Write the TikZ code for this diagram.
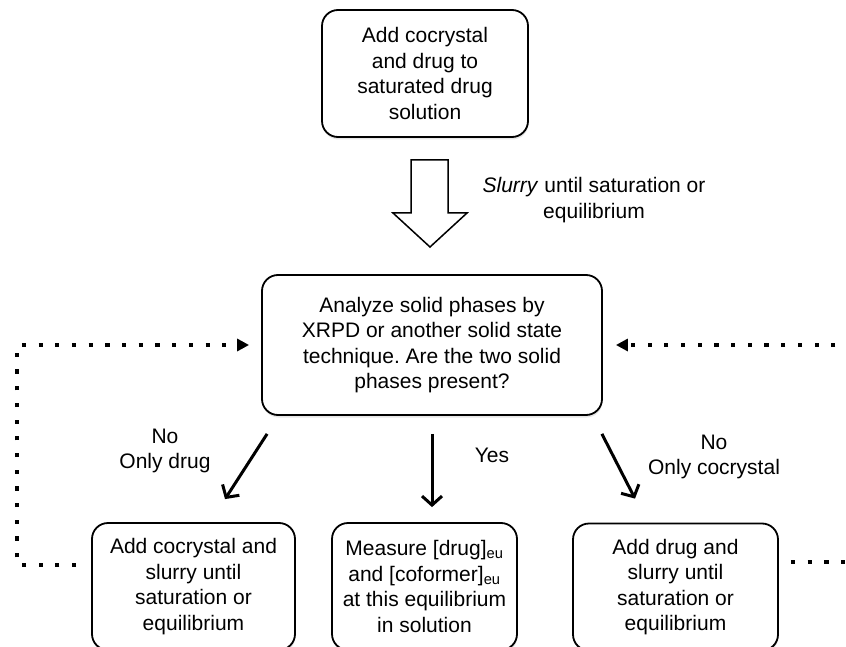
\documentclass[tikz,border=0pt]{standalone}
\usepackage{fontspec}
\setmainfont{Liberation Sans}
\frenchspacing
\usetikzlibrary{arrows.meta,shadows}

\tikzset{
  stepbox/.style={draw, line width=1.8pt, rounded corners=16pt, align=center,
    fill=white, font=\fontsize{21}{25.5}\selectfont,
    drop shadow={shadow xshift=0.5pt, shadow yshift=-2.5pt, opacity=0.2}},
  caption/.style={align=center, font=\fontsize{21}{25.5}\selectfont},
  choice/.style={line width=3pt, -{Straight Barb[length=9pt,width=20pt]}},
  loopback/.style={line width=4.2pt, dash pattern=on 4.2pt off 12.5pt,
    -{Triangle[length=12pt,width=12pt]}},
}

\begin{document}
\begin{tikzpicture}[x=1pt, y=-1pt]
    \useasboundingbox (0, 0) rectangle (846, 647);
    \clip (0, 0) rectangle (846, 647);

    % Start
    \node [stepbox, minimum width=206pt, minimum height=127pt] (start) at (425, 73.5)
          {Add cocrystal\\and drug to\\saturated drug\\solution};

    % Slurry
    \draw [line width=1.5pt, fill=white] (411, 160) -- (448, 160) -- (448, 213)
          -- (467, 213) -- (430, 247) -- (393, 213) -- (411, 213) -- cycle;
    \node [caption] (slurry) at (594, 200) {\textit{Slurry} until saturation or\\equilibrium};

    % Analysis
    \node [stepbox, minimum width=340pt, minimum height=140pt] (analyze) at (432, 345)
          {Analyze solid phases by\\XRPD or another solid state\\technique. Are the two solid\\phases present?};

    % Outcomes
    \node [stepbox, minimum width=203pt, minimum height=127pt] (addcocrystal) at (193.5, 586.5)
          {Add cocrystal and\\slurry until\\saturation or\\equilibrium};
    \node [stepbox, minimum width=185pt, minimum height=127pt] (measure) at (424.5, 586.5)
          {Measure [drug]\textsubscript{eu}\\and [coformer]\textsubscript{eu}\\at this equilibrium\\in solution};
    \node [stepbox, minimum width=205pt, minimum height=127pt] (adddrug) at (675.5, 587)
          {Add drug and\\slurry until\\saturation or\\equilibrium};

    % Edges
    \draw [choice] ([xshift=6pt, yshift=-18pt]analyze.south west)
          -- ([xshift=31.5pt, yshift=23pt]addcocrystal.north);
    \draw [choice, shorten <=18pt, shorten >=15pt] (analyze.south) -- (analyze.south |- measure.north);
    \draw [choice] ([xshift=-1pt, yshift=-18pt]analyze.south east)
          -- ([xshift=-40.5pt, yshift=24pt]adddrug.north);

    % Edge labels
    \node [caption] (nodrug) at (165, 451) {No\\Only drug};
    \node [caption] (yes) at (492, 455) {Yes};
    \node [caption] (nococrystal) at (714, 457) {No\\Only cocrystal};

    % Back to analysis
    \coordinate (loopleft) at (17, 565);
    \coordinate (loopright) at (880, 562);
    \draw [loopback] ([xshift=-15pt]addcocrystal.west |- loopleft) -- (loopleft)
          |- ([xshift=-12pt]analyze.west);
    \draw [loopback] ([xshift=12pt]adddrug.east |- loopright) -- (loopright)
          |- ([xshift=13pt]analyze.east);
\end{tikzpicture}
\end{document}
